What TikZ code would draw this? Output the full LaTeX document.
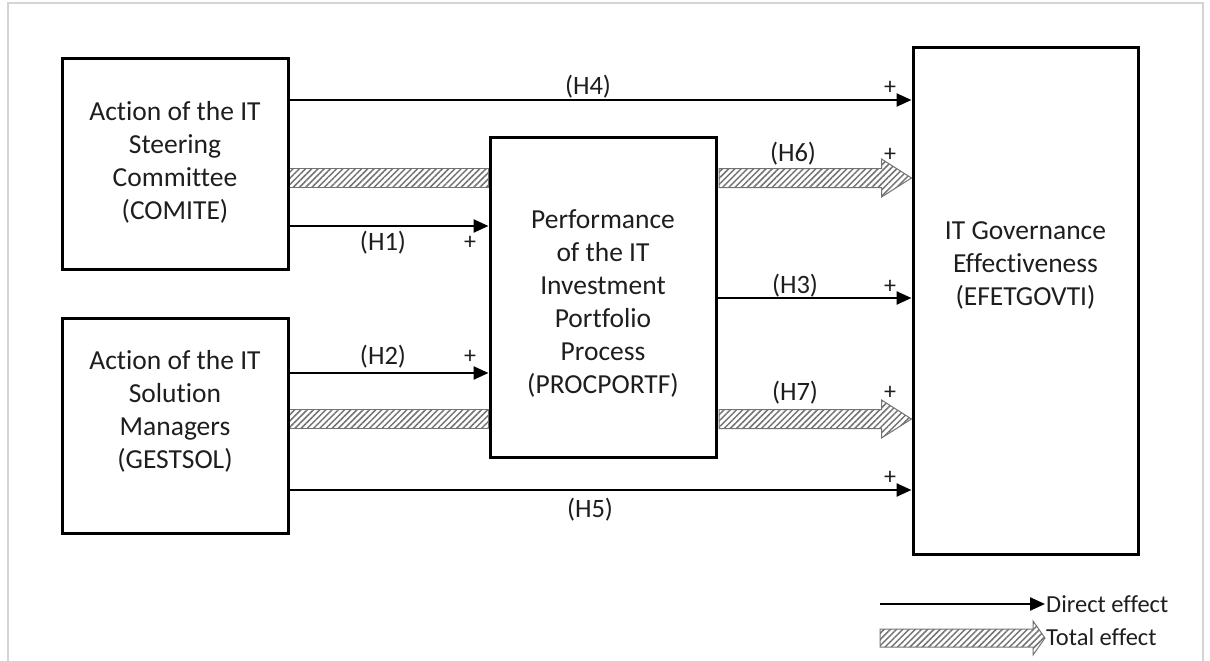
\documentclass[tikz,border=0pt]{standalone}
\usepackage{fontspec}
\setmainfont[Ligatures={NoCommon}]{Carlito}
\usetikzlibrary{arrows.meta,patterns.meta,calc,backgrounds}
\definecolor{framegray}{RGB}{212,212,212}
\definecolor{hatchgray}{RGB}{115,115,115}
\definecolor{txt}{RGB}{30,30,30}
\tikzset{
  box/.style={draw, line width=3pt, inner sep=0pt, fill=white},
  boxtext/.style={align=center, inner sep=0pt, text=txt, font=\fontsize{27.5}{33}\selectfont},
  lab/.style={inner sep=0pt, text=txt, font=\fontsize{26.5}{30}\selectfont},
  legtext/.style={inner sep=1pt, text=txt, font=\fontsize{24.5}{28}\selectfont, anchor=west},
  plus/.style={inner sep=0pt, text=txt, font=\fontsize{24}{26}\selectfont},
  direct/.style={line width=2.4pt, -{Triangle[length=15pt,width=13pt]}},
  total/.style={draw=hatchgray, line width=1pt, pattern={Lines[angle=45,distance=4.4pt,line width=1.5pt]}, pattern color=hatchgray},
}
\begin{document}
\begin{tikzpicture}[x=1pt,y=-1pt]
\useasboundingbox (0,0) rectangle (1210,661);
\draw[framegray, line width=1.6pt] (8,661) -- (8,3) -- (1203,3) -- (1203,661);

% boxes
\node[box, minimum width=226pt, minimum height=210pt] (comite) at (175,164) {};
\node[box, minimum width=226pt, minimum height=215pt] (gestsol) at (175,425.5) {};
\node[box, minimum width=226pt, minimum height=320pt] (proc) at (603,297) {};
\node[box, minimum width=225pt, minimum height=506pt] (efet) at (1025.5,301) {};

\node[boxtext] (comitetxt) at (175,162) {Action of the IT\\Steering\\Committee\\(COMITE)};
\node[boxtext] (gestsoltxt) at (175,411) {Action of the IT\\Solution\\Managers\\(GESTSOL)};
\node[boxtext] (proctxt) at (603,303) {Performance\\of the IT\\Investment\\Portfolio\\Process\\(PROCPORTF)};
\node[boxtext] (efettxt) at (1025.5,265) {IT Governance\\Effectiveness\\(EFETGOVTI)};

% rows
\coordinate (yH4) at (0,100);
\coordinate (yH6) at (0,178);
\coordinate (yH1) at (0,226);
\coordinate (yH3) at (0,298);
\coordinate (yH2) at (0,373);
\coordinate (yH7) at (0,419);
\coordinate (yH5) at (0,490);

% total effects (hatched)
\begin{scope}[on background layer]
\path[total] ($(comite.east|-yH6)+(0,-9.5)$) rectangle ($(proc.west|-yH6)+(0,9.5)$);
\path[total] ($(gestsol.east|-yH7)+(0,-9.5)$) rectangle ($(proc.west|-yH7)+(0,9.5)$);
\end{scope}
\path[total] ($(proc.east|-yH6)+(1.5,-9.5)$) -- ($(efet.west|-yH6)+(-30,-9.5)$) -- ($(efet.west|-yH6)+(-30,-19)$) -- (efet.west|-yH6) -- ($(efet.west|-yH6)+(-30,19)$) -- ($(efet.west|-yH6)+(-30,9.5)$) -- ($(proc.east|-yH6)+(1.5,9.5)$) -- cycle;
\path[total] ($(proc.east|-yH7)+(1.5,-9.5)$) -- ($(efet.west|-yH7)+(-30,-9.5)$) -- ($(efet.west|-yH7)+(-30,-19)$) -- (efet.west|-yH7) -- ($(efet.west|-yH7)+(-30,19)$) -- ($(efet.west|-yH7)+(-30,9.5)$) -- ($(proc.east|-yH7)+(1.5,9.5)$) -- cycle;

% direct effects
\draw[direct] (comite.east|-yH4) -- (efet.west|-yH4);
\draw[direct] (comite.east|-yH1) -- (proc.west|-yH1);
\draw[direct] (proc.east|-yH3) -- (efet.west|-yH3);
\draw[direct] (gestsol.east|-yH2) -- (proc.west|-yH2);
\draw[direct] (gestsol.east|-yH5) -- (efet.west|-yH5);

% labels
\node[lab] (lH4) at (588,87) {(H4)};
\node[plus] (pH4) at (890,88) {+};
\node[lab] (lH6) at (793,154) {(H6)};
\node[plus] (pH6) at (890,155) {+};
\node[lab] (lH1) at (383,243) {(H1)};
\node[plus] (pH1) at (470,243) {+};
\node[lab] (lH3) at (795,286) {(H3)};
\node[plus] (pH3) at (890,287) {+};
\node[lab] (lH2) at (383,357) {(H2)};
\node[plus] (pH2) at (470,357) {+};
\node[lab] (lH7) at (795,393) {(H7)};
\node[plus] (pH7) at (890,393) {+};
\node[lab] (lH5) at (590,510) {(H5)};
\node[plus] (pH5) at (890,478) {+};

% legend
\node[legtext] (ldtext) at (1045,604) {Direct effect};
\node[legtext] (lttext) at (1045,637) {Total effect};
\coordinate (ld1) at (880,604);
\coordinate (lt1) at (880,638);
\draw[direct] (ld1) -- (ldtext.west);
\path[total] ($(lt1)+(0,-9)$) -- ($(lttext.west|-lt1)+(-12,-9)$) -- ($(lttext.west|-lt1)+(-12,-17)$) -- (lttext.west|-lt1) -- ($(lttext.west|-lt1)+(-12,17)$) -- ($(lttext.west|-lt1)+(-12,9)$) -- ($(lt1)+(0,9)$) -- cycle;
\end{tikzpicture}
\end{document}
